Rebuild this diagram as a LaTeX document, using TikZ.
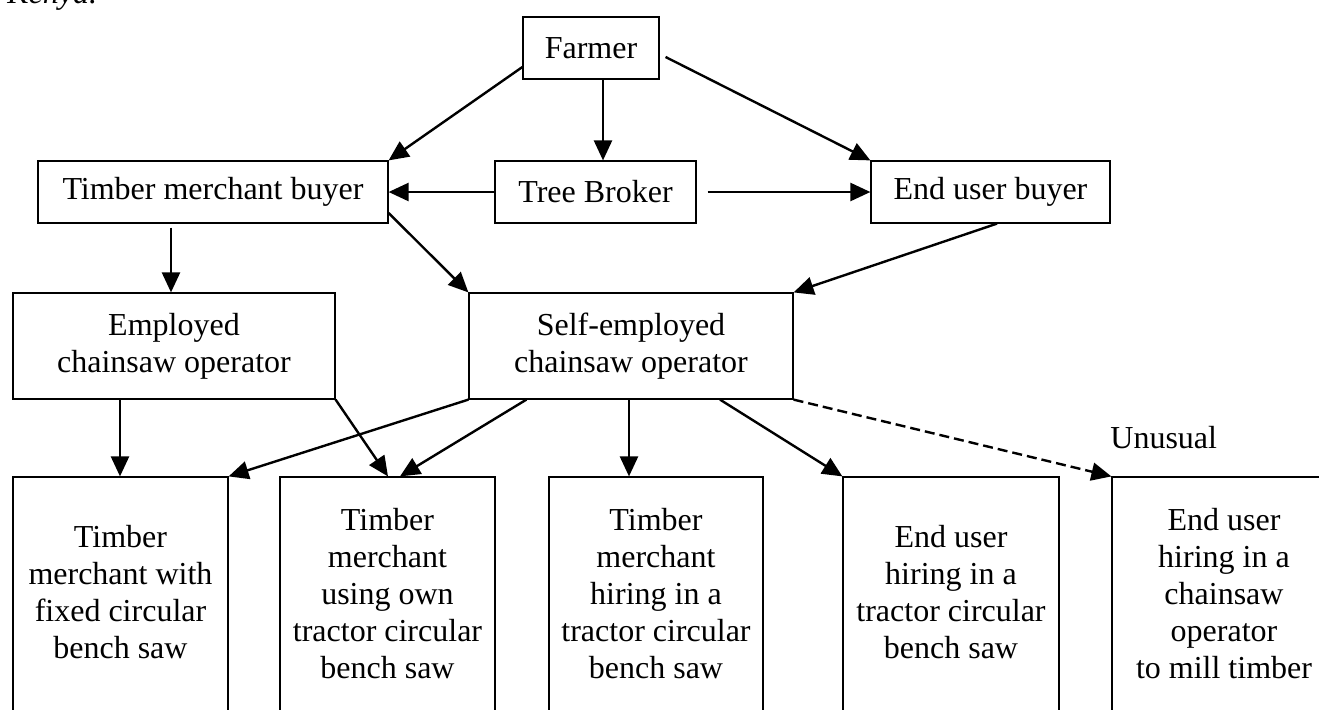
\documentclass[tikz,border=0pt]{standalone}
\usepackage{fontspec}
\setmainfont{Liberation Serif}
\usetikzlibrary{arrows.meta,calc}
\begin{document}
\begin{tikzpicture}[x=0.5pt,y=-0.5pt]
\tikzset{
  txt/.style={font=\fontsize{16}{18.5}\selectfont},
  box/.style={txt, draw, line width=0.6pt, rectangle, inner sep=0pt, align=center},
  lbl/.style={txt, inner sep=0pt, align=center, anchor=north},
  arr/.style={-{Triangle[length=10pt,width=9pt]}, line width=1.2pt},
  dasharr/.style={arr, dash pattern=on 5pt off 2.5pt},
}
\useasboundingbox (0,0) rectangle (1319,709);
\clip (0,0) rectangle (1319,709);
\fill[white] (0,0) rectangle (1319,709);

\node[txt, anchor=base west, inner sep=0pt, font=\fontsize{16}{18.5}\selectfont\itshape] (kenya) at (7,3) {Kenya.};

\node[box, minimum width=68pt, minimum height=31pt] (farmer) at (591,48) {Farmer};
\node[box, minimum width=100.5pt, minimum height=31pt] (broker) at (595.5,192) {Tree Broker};
\node[box, minimum width=175pt, minimum height=31pt] (tmb) at (213,192) {Timber merchant buyer};
\node[box, minimum width=119.5pt, minimum height=31pt] (eub) at (990.5,192) {End user buyer};
\node[box, minimum width=161pt, minimum height=53pt] (emp) at (174,346) {Employed\\chainsaw operator};
\node[box, minimum width=162pt, minimum height=53pt] (self) at (631,346) {Self-employed\\chainsaw operator};

\node[box, minimum width=107.5pt, minimum height=141.5pt] (b1) at (120.5,618.5) {};
\node[box, minimum width=107.5pt, minimum height=141.5pt] (b2) at (387.5,618.5) {};
\node[box, minimum width=107pt, minimum height=141.5pt] (b3) at (656,618.5) {};
\node[box, minimum width=108pt, minimum height=141.5pt] (b4) at (951,618.5) {};
\node[box, minimum width=112pt, minimum height=141.5pt] (b5) at (1224,618.5) {};

\node[lbl] (t1) at (120.5,521) {\strut Timber\\merchant with\\fixed circular\\bench saw};
\node[lbl] (t2) at (387.5,504) {\strut Timber\\merchant\\using own\\tractor circular\\bench saw};
\node[lbl] (t3) at (656,504) {\strut Timber\\merchant\\hiring in a\\tractor circular\\bench saw};
\node[lbl] (t4) at (951,521) {\strut End user\\hiring in a\\tractor circular\\bench saw};
\node[lbl] (t5) at (1224,504) {\strut End user\\hiring in a\\chainsaw\\operator\\to mill timber};

\node[txt, anchor=base west, inner sep=0pt] (unusual) at (1110,448) {Unusual};

\draw[arr] ($(farmer.west)+(0,19)$) -- (tmb.north east);
\draw[arr] ($(farmer.south)+(12,0)$) -- ($(broker.north)+(7.5,0)$);
\draw[arr] ($(farmer.east)+(6,9)$) -- (eub.north west);
\draw[arr] (broker.west) -- (tmb.east);
\draw[arr] ($(broker.east)+(11,0)$) -- (eub.west);
\draw[arr] ($(tmb.south)+(-42,4)$) -- ($(emp.north)+(-3,0)$);
\draw[arr] ($(tmb.east)+(0,21)$) -- (self.north west);
\draw[arr] ($(eub.south)+(6.5,0)$) -- (self.north east);
\draw[arr] ($(emp.south)+(-54,0)$) -- ($(b1.north)+(-0.5,0)$);
\draw[arr] (emp.south east) -- ($(b2.north)+(0.5,0)$);
\draw[arr] (self.south west) -- (b1.north east);
\draw[arr] ($(self.south west)+(58,0)$) -- ($(b2.north)+(12.5,0)$);
\draw[arr] ($(self.south)+(-2,0)$) -- ($(b3.north)+(-27,0)$);
\draw[arr] ($(self.south)+(89,0)$) -- (b4.north west);
\draw[dasharr] (self.south east) -- (b5.north west);
\end{tikzpicture}
\end{document}
